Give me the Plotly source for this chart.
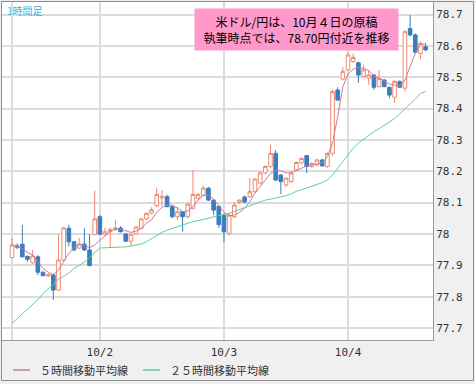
import pandas as pd
import plotly.graph_objects as go

# ---- data ----
times = pd.date_range("2012-10-01 07:00", periods=81, freq="h")

open_ = [77.925, 77.962, 77.967, 77.928, 77.908, 77.927, 77.878, 77.866, 77.869, 77.821,
         77.917, 78.018, 77.975, 77.955, 77.968, 77.949, 77.998, 78.055, 77.999, 78.008,
         78.014, 78.019, 78.000, 77.977, 78.000, 78.018, 78.048, 78.066, 78.090, 78.115,
         78.119, 78.087, 78.055, 78.071, 78.055, 78.082, 78.114, 78.124, 78.146, 78.108,
         78.088, 78.060, 78.002, 78.055, 78.100, 78.118, 78.119, 78.135, 78.162, 78.195,
         78.215, 78.257, 78.188, 78.156, 78.167, 78.204, 78.227, 78.250, 78.215, 78.220,
         78.236, 78.215, 78.257, 78.459, 78.494, 78.523, 78.550, 78.546, 78.502, 78.497,
         78.507, 78.470, 78.491, 78.468, 78.436, 78.486, 78.465, 78.655, 78.635, 78.576,
         78.597]

high = [77.987, 77.970, 78.029, 77.932, 77.949, 77.932, 77.880, 77.875, 77.874, 77.997,
        78.022, 78.029, 77.978, 77.987, 78.018, 78.000, 78.138, 78.060, 78.020, 78.020,
        78.046, 78.025, 78.003, 78.000, 78.025, 78.050, 78.068, 78.085, 78.148, 78.140,
        78.125, 78.090, 78.087, 78.074, 78.098, 78.204, 78.130, 78.154, 78.150, 78.110,
        78.092, 78.065, 78.065, 78.100, 78.110, 78.122, 78.178, 78.178, 78.200, 78.220,
        78.284, 78.268, 78.190, 78.180, 78.200, 78.232, 78.245, 78.252, 78.228, 78.240,
        78.240, 78.260, 78.460, 78.468, 78.533, 78.581, 78.575, 78.550, 78.539, 78.523,
        78.510, 78.523, 78.493, 78.470, 78.490, 78.490, 78.650, 78.698, 78.640, 78.615,
        78.608]

low = [77.922, 77.952, 77.925, 77.911, 77.905, 77.869, 77.865, 77.862, 77.789, 77.818,
       77.912, 77.960, 77.945, 77.952, 77.946, 77.897, 77.996, 77.997, 77.996, 77.955,
       78.010, 78.005, 77.975, 77.962, 77.998, 78.015, 78.045, 78.062, 78.085, 78.090,
       78.085, 78.050, 78.045, 78.007, 78.050, 78.078, 78.110, 78.120, 78.105, 78.060,
       78.020, 77.975, 77.995, 78.050, 78.095, 78.098, 78.115, 78.130, 78.158, 78.190,
       78.210, 78.170, 78.127, 78.150, 78.162, 78.200, 78.222, 78.194, 78.210, 78.215,
       78.215, 78.210, 78.250, 78.425, 78.490, 78.520, 78.545, 78.482, 78.500, 78.475,
       78.460, 78.468, 78.468, 78.433, 78.417, 78.466, 78.455, 78.630, 78.575, 78.557,
       78.583]

close = [77.965, 77.958, 77.927, 77.919, 77.930, 77.878, 77.867, 77.870, 77.821, 77.917,
         78.019, 77.975, 77.949, 77.968, 77.949, 77.899, 78.048, 77.999, 78.007, 78.014,
         78.019, 78.007, 77.977, 77.999, 78.022, 78.048, 78.066, 78.077, 78.126, 78.120,
         78.087, 78.055, 78.071, 78.055, 78.095, 78.126, 78.126, 78.146, 78.108, 78.076,
         78.030, 78.007, 78.060, 78.092, 78.108, 78.102, 78.135, 78.175, 78.195, 78.215,
         78.257, 78.172, 78.167, 78.178, 78.194, 78.228, 78.241, 78.215, 78.225, 78.236,
         78.217, 78.257, 78.454, 78.427, 78.518, 78.571, 78.563, 78.507, 78.523, 78.507,
         78.468, 78.496, 78.470, 78.443, 78.486, 78.468, 78.645, 78.635, 78.580, 78.608,
         78.587]

ma5 = [77.965, 77.959, 77.954, 77.941, 77.933, 77.911, 77.890, 77.878, 77.869, 77.885,
       77.911, 77.938, 77.954, 77.965, 77.965, 77.956, 77.965, 77.981, 77.994, 78.007,
       78.016, 78.015, 78.009, 78.005, 78.009, 78.018, 78.034, 78.045, 78.069, 78.085,
       78.092, 78.092, 78.082, 78.071, 78.073, 78.087, 78.108, 78.122, 78.124, 78.111,
       78.090, 78.069, 78.058, 78.060, 78.069, 78.082, 78.103, 78.130, 78.151, 78.172,
       78.193, 78.204, 78.201, 78.195, 78.195, 78.202, 78.209, 78.217, 78.220, 78.223,
       78.227, 78.246, 78.290, 78.375, 78.470, 78.510, 78.526, 78.530, 78.528, 78.521,
       78.504, 78.496, 78.489, 78.478, 78.475, 78.472, 78.491, 78.533, 78.576, 78.603,
       78.608]

ma25 = [77.715, 77.730, 77.745, 77.760, 77.775, 77.790, 77.810, 77.825, 77.840, 77.855,
        77.865, 77.875, 77.890, 77.900, 77.910, 77.925, 77.940, 77.955, 77.956, 77.956,
        77.957, 77.958, 77.959, 77.962, 77.965, 77.968, 77.975, 77.985, 77.993, 78.005,
        78.012, 78.018, 78.023, 78.028, 78.034, 78.039, 78.043, 78.046, 78.050, 78.054,
        78.058, 78.061, 78.066, 78.072, 78.078, 78.085, 78.090, 78.097, 78.103, 78.108,
        78.111, 78.114, 78.117, 78.122, 78.128, 78.136, 78.141, 78.146, 78.152, 78.158,
        78.164, 78.172, 78.188, 78.210, 78.234, 78.255, 78.274, 78.290, 78.303, 78.316,
        78.326, 78.336, 78.346, 78.356, 78.368, 78.383, 78.400, 78.415, 78.430, 78.448,
        78.455]

y_ticks = [77.7, 77.8, 77.9, 78.0, 78.1, 78.2, 78.3, 78.4, 78.5, 78.6, 78.7]
y_labels = ["77.7", "77.8", "77.9", "78", "78.1", "78.2", "78.3", "78.4", "78.5", "78.6", "78.7"]
x_ticks = ["2012-10-01 07:00", "2012-10-02 00:00", "2012-10-03 00:00", "2012-10-04 00:00"]
x_labels = ["", "10/2", "10/3", "10/4"]

legend_names = ["５時間移動平均線", "２５時間移動平均線"]
title_text = "1時間足"
note_text = "米ドル/円は、10月４日の原稿<br>執筆時点では、78.70円付近を推移"

# ---- styles ----
UP = "#ee8a70"
DOWN = "#3b7dbd"
MA5_C = "#cc7a9c"
MA25_C = "#5fcf9e"
JP = "Noto Sans CJK JP"
MONO = "DejaVu Sans Mono"

fig = go.Figure()
fig.add_trace(go.Candlestick(
    x=times, open=open_, high=high, low=low, close=close,
    increasing=dict(line=dict(color=UP, width=1), fillcolor="white"),
    decreasing=dict(line=dict(color=DOWN, width=1), fillcolor=DOWN),
    whiskerwidth=0, showlegend=False, hoverinfo="skip",
))
fig.add_trace(go.Scatter(x=times, y=ma5, mode="lines", line=dict(color=MA5_C, width=1),
                         name=legend_names[0], showlegend=False, hoverinfo="skip"))
fig.add_trace(go.Scatter(x=times, y=ma25, mode="lines", line=dict(color=MA25_C, width=1),
                         name=legend_names[1], showlegend=False, hoverinfo="skip"))

W, H = 475, 384
ML, MR, MT, MB = 2, 42, 2, 44
PW, PH = W - ML - MR, H - MT - MB

def px(x):
    return (x - ML) / PW

def py(y):
    return (H - MB - y) / PH

y_top = 78.7 + (14.5 - MT) / 313.5
y_bot = 78.7 - (H - MB - 14.5) / 313.5
x_left = pd.Timestamp(times[0]) - pd.Timedelta(hours=1.93)
x_right = pd.Timestamp(times[0]) + pd.Timedelta(hours=81.43)

fig.update_layout(
    width=W, height=H,
    margin=dict(l=ML, r=MR, t=MT, b=MB, pad=0),
    paper_bgcolor="#f0f0f0", plot_bgcolor="white",
    boxgap=0.3, boxgroupgap=0,
    showlegend=False,
    hovermode=False,
    xaxis=dict(
        type="date", range=[x_left, x_right],
        tickvals=x_ticks, ticktext=x_labels,
        showgrid=True, gridcolor="#dcdcdc", gridwidth=2,
        showline=True, mirror=True, linecolor="#9a9a9a", linewidth=1,
        zeroline=False, ticks="outside", ticklen=2, tickcolor="rgba(0,0,0,0)",
        rangeslider=dict(visible=False),
        tickfont=dict(family=MONO, size=11, color="#333333"),
    ),
    yaxis=dict(
        side="right", range=[y_bot, y_top],
        tickvals=y_ticks, ticktext=y_labels,
        showgrid=True, gridcolor="#dcdcdc", gridwidth=2,
        showline=True, mirror=True, linecolor="#9a9a9a", linewidth=1,
        zeroline=False, ticks="",
        tickfont=dict(family=MONO, size=11, color="#333333"),
    ),
    annotations=[
        dict(xref="paper", yref="paper", x=px(5), y=py(10), xanchor="left", yanchor="middle",
             text=title_text, showarrow=False,
             font=dict(family=JP, size=10, color="#33b5e5")),
        dict(xref="paper", yref="paper", x=px(296.5), y=py(30), xanchor="center", yanchor="middle",
             text=note_text, showarrow=False, align="center",
             bgcolor="#ff99cc", borderpad=4, width=195, height=33,
             font=dict(family=JP, size=12, color="black")),
        dict(xref="paper", yref="paper", x=px(38), y=py(370), xanchor="left", yanchor="middle",
             text=legend_names[0], showarrow=False,
             font=dict(family=JP, size=11, color="#333333")),
        dict(xref="paper", yref="paper", x=px(168), y=py(370), xanchor="left", yanchor="middle",
             text=legend_names[1], showarrow=False,
             font=dict(family=JP, size=11, color="#333333")),
    ],
    shapes=[
        dict(type="line", xref="paper", yref="paper", x0=px(13), x1=px(30), y0=py(370), y1=py(370),
             line=dict(color=MA5_C, width=1.5)),
        dict(type="line", xref="paper", yref="paper", x0=px(143), x1=px(160), y0=py(370), y1=py(370),
             line=dict(color=MA25_C, width=1.5)),
        dict(type="rect", xref="paper", yref="paper", x0=px(1.5), x1=px(473.5), y0=py(380.5), y1=py(1.5),
             line=dict(color="#8c8c8c", width=1), fillcolor="rgba(0,0,0,0)"),
    ],
)

fig.write_html(
    "out.html",
    config={"displayModeBar": False},
    post_script="document.body.style.margin='0';document.body.style.padding='0';",
)
